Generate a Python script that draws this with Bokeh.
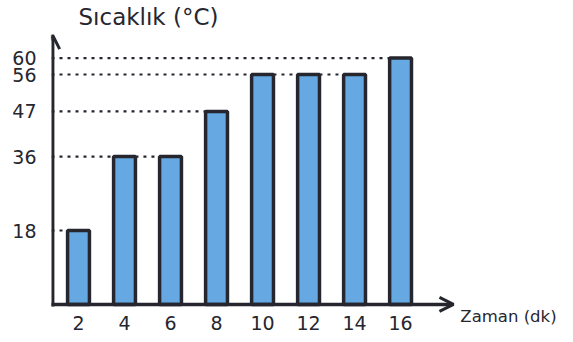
from bokeh.plotting import figure
from bokeh.models import Arrow, OpenHead, FixedTicker
from bokeh.core.properties import value
from bokeh.embed import file_html
from bokeh.resources import INLINE

# data
times = [2, 4, 6, 8, 10, 12, 14, 16]
temps = [18, 36, 36, 47, 56, 56, 56, 60]
y_ticks = [18, 36, 47, 56, 60]
x_ticks = [2, 4, 6, 8, 10, 12, 14, 16]
title_text = "Sıcaklık (°C)"
xlabel_text = "Zaman (dk)"

FONT = "DejaVu Sans"
INK = "#26262f"
BLUE = "#66a9e2"
bar_w = 0.95

x0, x1 = 0.826, 23.17
y0, y1 = -5.87, 74.03

p = figure(width=565, height=334, output_backend="svg", toolbar_location=None,
           x_range=(x0, x1), y_range=(y0, y1),
           min_border_left=51, min_border_right=0, min_border_top=0, min_border_bottom=6)
p.outline_line_color = None
p.grid.visible = False
p.background_fill_color = "white"

# axes styling
for ax in (p.xaxis[0], p.yaxis[0]):
    ax.axis_line_color = None
    ax.major_tick_line_color = None
    ax.minor_tick_line_color = None
    ax.major_tick_out = 0
    ax.major_tick_in = 0
    ax.major_label_text_font = FONT
    ax.major_label_text_font_size = "19px"
    ax.major_label_text_color = INK
p.xaxis[0].ticker = FixedTicker(ticks=x_ticks)
p.yaxis[0].ticker = FixedTicker(ticks=y_ticks)
p.xaxis[0].major_label_standoff = -13
p.yaxis[0].major_label_standoff = 15

# guide dotted lines from axis / previous equal bar to bar top
gx0, gx1, gy = [], [], []
for i, (t, v) in enumerate(zip(times, temps)):
    start = x0
    if i > 0 and temps[i - 1] == v:
        start = times[i - 1] + bar_w / 2
    gx0.append(start)
    gx1.append(t - bar_w / 2)
    gy.append(v)
p.segment(x0=gx0, y0=gy, x1=gx1, y1=gy, line_color=INK, line_width=2.2, line_dash="3 5")

# bars
p.vbar(x=times, top=temps, bottom=0, width=bar_w, fill_color=BLUE,
       line_color=INK, line_width=3.5)

# axis lines with arrows
p.add_layout(Arrow(end=OpenHead(size=14, line_width=3, line_color=INK),
                   x_start=x0 + 0.05, y_start=-0.5, x_end=x0 + 0.05, y_end=65.6,
                   line_width=3.5, line_color=INK))
p.add_layout(Arrow(end=OpenHead(size=14, line_width=3, line_color=INK),
                   x_start=x0 - 0.1, y_start=0, x_end=18.3, y_end=0,
                   line_width=3.5, line_color=INK))

# title and x label
p.text(x=[2.0], y=[69.9], text=[title_text], text_font=value(FONT),
       text_font_size="23px", text_color=INK, text_align="left", text_baseline="middle")
p.text(x=[18.6], y=[-3.0], text=[xlabel_text], text_font=value(FONT),
       text_font_size="16.5px", text_color=INK, text_align="left", text_baseline="middle")

open("out.html", "w").write(file_html(p, INLINE))
